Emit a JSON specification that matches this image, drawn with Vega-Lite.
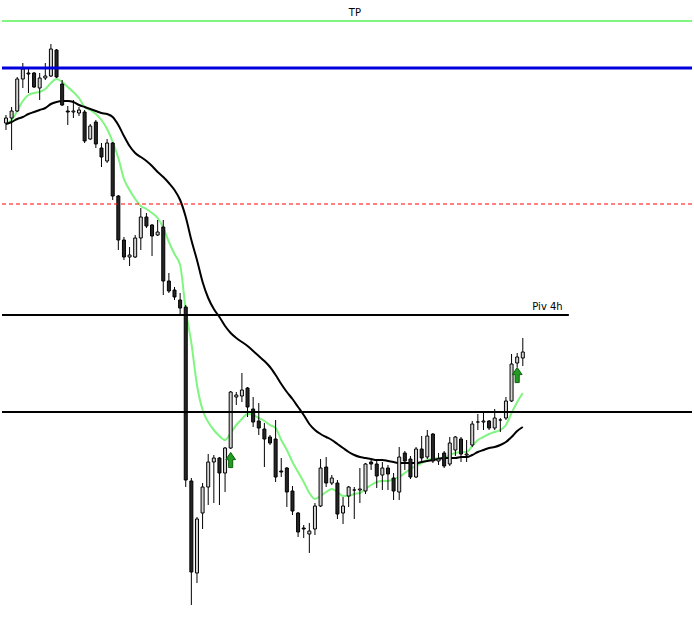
{
  "$schema": "https://vega.github.io/schema/vega-lite/v6.json",
  "description": "Candlestick chart with fast and slow moving averages, TP and pivot levels.",
  "width": 694,
  "height": 623,
  "autosize": {"type": "fit", "contains": "padding"},
  "padding": 0,
  "background": "white",
  "datasets": {
    "candles": [
      {"i": 0, "o": 1877, "h": 1885, "l": 1870, "c": 1882},
      {"i": 1, "o": 1882, "h": 1893, "l": 1850, "c": 1889},
      {"i": 2, "o": 1889, "h": 1923, "l": 1888, "c": 1921},
      {"i": 3, "o": 1921, "h": 1937, "l": 1912, "c": 1931},
      {"i": 4, "o": 1927, "h": 1931, "l": 1907, "c": 1926},
      {"i": 5, "o": 1927, "h": 1928, "l": 1912, "c": 1913},
      {"i": 6, "o": 1912, "h": 1927, "l": 1900, "c": 1922},
      {"i": 7, "o": 1922, "h": 1937, "l": 1920, "c": 1924},
      {"i": 8, "o": 1924, "h": 1956, "l": 1923, "c": 1951},
      {"i": 9, "o": 1950, "h": 1951, "l": 1922, "c": 1923},
      {"i": 10, "o": 1916, "h": 1920, "l": 1894, "c": 1895},
      {"i": 11, "o": 1889, "h": 1894, "l": 1875, "c": 1888},
      {"i": 12, "o": 1888, "h": 1900, "l": 1882, "c": 1889},
      {"i": 13, "o": 1887, "h": 1893, "l": 1884, "c": 1890},
      {"i": 14, "o": 1888, "h": 1890, "l": 1857, "c": 1859},
      {"i": 15, "o": 1861, "h": 1876, "l": 1860, "c": 1874},
      {"i": 16, "o": 1878, "h": 1880, "l": 1852, "c": 1856},
      {"i": 17, "o": 1852, "h": 1857, "l": 1833, "c": 1843},
      {"i": 18, "o": 1839, "h": 1861, "l": 1837, "c": 1857},
      {"i": 19, "o": 1857, "h": 1858, "l": 1800, "c": 1804},
      {"i": 20, "o": 1804, "h": 1805, "l": 1750, "c": 1760},
      {"i": 21, "o": 1760, "h": 1763, "l": 1740, "c": 1743},
      {"i": 22, "o": 1743, "h": 1753, "l": 1734, "c": 1745},
      {"i": 23, "o": 1743, "h": 1765, "l": 1742, "c": 1762},
      {"i": 24, "o": 1762, "h": 1792, "l": 1750, "c": 1783},
      {"i": 25, "o": 1783, "h": 1787, "l": 1772, "c": 1774},
      {"i": 26, "o": 1775, "h": 1776, "l": 1744, "c": 1764},
      {"i": 27, "o": 1765, "h": 1780, "l": 1764, "c": 1768},
      {"i": 28, "o": 1773, "h": 1780, "l": 1705, "c": 1719},
      {"i": 29, "o": 1719, "h": 1727, "l": 1707, "c": 1709},
      {"i": 30, "o": 1710, "h": 1713, "l": 1700, "c": 1703},
      {"i": 31, "o": 1700, "h": 1707, "l": 1685, "c": 1692},
      {"i": 32, "o": 1693, "h": 1695, "l": 1513, "c": 1520},
      {"i": 33, "o": 1519, "h": 1522, "l": 1395, "c": 1428},
      {"i": 34, "o": 1427, "h": 1483, "l": 1417, "c": 1481},
      {"i": 35, "o": 1487, "h": 1517, "l": 1471, "c": 1513},
      {"i": 36, "o": 1513, "h": 1546, "l": 1495, "c": 1538},
      {"i": 37, "o": 1538, "h": 1545, "l": 1497, "c": 1542},
      {"i": 38, "o": 1542, "h": 1543, "l": 1495, "c": 1527},
      {"i": 39, "o": 1527, "h": 1553, "l": 1508, "c": 1552},
      {"i": 40, "o": 1552, "h": 1609, "l": 1551, "c": 1608},
      {"i": 41, "o": 1603, "h": 1608, "l": 1595, "c": 1605},
      {"i": 42, "o": 1604, "h": 1627, "l": 1598, "c": 1610},
      {"i": 43, "o": 1612, "h": 1613, "l": 1583, "c": 1593},
      {"i": 44, "o": 1591, "h": 1603, "l": 1573, "c": 1578},
      {"i": 45, "o": 1579, "h": 1597, "l": 1565, "c": 1572},
      {"i": 46, "o": 1571, "h": 1577, "l": 1533, "c": 1561},
      {"i": 47, "o": 1563, "h": 1565, "l": 1555, "c": 1557},
      {"i": 48, "o": 1561, "h": 1580, "l": 1518, "c": 1523},
      {"i": 49, "o": 1529, "h": 1542, "l": 1523, "c": 1528},
      {"i": 50, "o": 1532, "h": 1533, "l": 1493, "c": 1508},
      {"i": 51, "o": 1509, "h": 1514, "l": 1485, "c": 1489},
      {"i": 52, "o": 1487, "h": 1488, "l": 1463, "c": 1468},
      {"i": 53, "o": 1472, "h": 1475, "l": 1462, "c": 1471},
      {"i": 54, "o": 1466, "h": 1477, "l": 1447, "c": 1469},
      {"i": 55, "o": 1471, "h": 1497, "l": 1465, "c": 1494},
      {"i": 56, "o": 1494, "h": 1541, "l": 1493, "c": 1532},
      {"i": 57, "o": 1533, "h": 1543, "l": 1513, "c": 1517},
      {"i": 58, "o": 1517, "h": 1525, "l": 1515, "c": 1522},
      {"i": 59, "o": 1517, "h": 1520, "l": 1481, "c": 1486},
      {"i": 60, "o": 1487, "h": 1503, "l": 1476, "c": 1494},
      {"i": 61, "o": 1504, "h": 1514, "l": 1493, "c": 1513},
      {"i": 62, "o": 1510, "h": 1513, "l": 1481, "c": 1510},
      {"i": 63, "o": 1510, "h": 1532, "l": 1497, "c": 1511},
      {"i": 64, "o": 1509, "h": 1537, "l": 1506, "c": 1536},
      {"i": 65, "o": 1538, "h": 1541, "l": 1530, "c": 1536},
      {"i": 66, "o": 1536, "h": 1540, "l": 1512, "c": 1524},
      {"i": 67, "o": 1525, "h": 1538, "l": 1510, "c": 1532},
      {"i": 68, "o": 1532, "h": 1535, "l": 1510, "c": 1526},
      {"i": 69, "o": 1522, "h": 1527, "l": 1500, "c": 1509},
      {"i": 70, "o": 1508, "h": 1553, "l": 1500, "c": 1543},
      {"i": 71, "o": 1547, "h": 1549, "l": 1530, "c": 1539},
      {"i": 72, "o": 1541, "h": 1544, "l": 1521, "c": 1523},
      {"i": 73, "o": 1523, "h": 1553, "l": 1522, "c": 1551},
      {"i": 74, "o": 1551, "h": 1564, "l": 1538, "c": 1542},
      {"i": 75, "o": 1543, "h": 1570, "l": 1541, "c": 1564},
      {"i": 76, "o": 1566, "h": 1567, "l": 1537, "c": 1539},
      {"i": 77, "o": 1539, "h": 1547, "l": 1535, "c": 1541},
      {"i": 78, "o": 1547, "h": 1549, "l": 1532, "c": 1534},
      {"i": 79, "o": 1536, "h": 1563, "l": 1534, "c": 1557},
      {"i": 80, "o": 1550, "h": 1564, "l": 1544, "c": 1563},
      {"i": 81, "o": 1561, "h": 1563, "l": 1538, "c": 1546},
      {"i": 82, "o": 1545, "h": 1560, "l": 1538, "c": 1546},
      {"i": 83, "o": 1555, "h": 1579, "l": 1553, "c": 1576},
      {"i": 84, "o": 1578, "h": 1586, "l": 1570, "c": 1578},
      {"i": 85, "o": 1578, "h": 1589, "l": 1570, "c": 1579},
      {"i": 86, "o": 1579, "h": 1580, "l": 1570, "c": 1572},
      {"i": 87, "o": 1572, "h": 1591, "l": 1570, "c": 1582},
      {"i": 88, "o": 1580, "h": 1582, "l": 1568, "c": 1580},
      {"i": 89, "o": 1582, "h": 1603, "l": 1580, "c": 1599},
      {"i": 90, "o": 1599, "h": 1646, "l": 1598, "c": 1636},
      {"i": 91, "o": 1637, "h": 1647, "l": 1633, "c": 1643},
      {"i": 92, "o": 1642, "h": 1662, "l": 1634, "c": 1648}
    ],
    "ma": [
      {"i": 0, "fast": 1876, "slow": 1876},
      {"i": 1, "fast": 1880, "slow": 1878},
      {"i": 2, "fast": 1889, "slow": 1881},
      {"i": 3, "fast": 1899, "slow": 1883},
      {"i": 4, "fast": 1905, "slow": 1886},
      {"i": 5, "fast": 1907, "slow": 1888},
      {"i": 6, "fast": 1908, "slow": 1890},
      {"i": 7, "fast": 1911, "slow": 1892},
      {"i": 8, "fast": 1917, "slow": 1896},
      {"i": 9, "fast": 1921, "slow": 1898},
      {"i": 10, "fast": 1918, "slow": 1899},
      {"i": 11, "fast": 1913, "slow": 1899},
      {"i": 12, "fast": 1908, "slow": 1898},
      {"i": 13, "fast": 1902, "slow": 1895},
      {"i": 14, "fast": 1893, "slow": 1893},
      {"i": 15, "fast": 1890, "slow": 1891},
      {"i": 16, "fast": 1886, "slow": 1889},
      {"i": 17, "fast": 1880, "slow": 1887},
      {"i": 18, "fast": 1871, "slow": 1886},
      {"i": 19, "fast": 1858, "slow": 1883},
      {"i": 20, "fast": 1842, "slow": 1875},
      {"i": 21, "fast": 1821, "slow": 1864},
      {"i": 22, "fast": 1810, "slow": 1854},
      {"i": 23, "fast": 1801, "slow": 1847},
      {"i": 24, "fast": 1794, "slow": 1843},
      {"i": 25, "fast": 1791, "slow": 1839},
      {"i": 26, "fast": 1787, "slow": 1834},
      {"i": 27, "fast": 1782, "slow": 1828},
      {"i": 28, "fast": 1772, "slow": 1823},
      {"i": 29, "fast": 1758, "slow": 1817},
      {"i": 30, "fast": 1746, "slow": 1810},
      {"i": 31, "fast": 1735, "slow": 1800},
      {"i": 32, "fast": 1690, "slow": 1783},
      {"i": 33, "fast": 1657, "slow": 1760},
      {"i": 34, "fast": 1615, "slow": 1740},
      {"i": 35, "fast": 1590, "slow": 1718},
      {"i": 36, "fast": 1578, "slow": 1702},
      {"i": 37, "fast": 1570, "slow": 1691},
      {"i": 38, "fast": 1564, "slow": 1683},
      {"i": 39, "fast": 1560, "slow": 1674},
      {"i": 40, "fast": 1567, "slow": 1667},
      {"i": 41, "fast": 1575, "slow": 1662},
      {"i": 42, "fast": 1581, "slow": 1658},
      {"i": 43, "fast": 1586, "slow": 1654},
      {"i": 44, "fast": 1585, "slow": 1649},
      {"i": 45, "fast": 1582, "slow": 1644},
      {"i": 46, "fast": 1579, "slow": 1639},
      {"i": 47, "fast": 1575, "slow": 1633},
      {"i": 48, "fast": 1572, "slow": 1625},
      {"i": 49, "fast": 1560, "slow": 1616},
      {"i": 50, "fast": 1550, "slow": 1608},
      {"i": 51, "fast": 1538, "slow": 1601},
      {"i": 52, "fast": 1528, "slow": 1593},
      {"i": 53, "fast": 1518, "slow": 1585},
      {"i": 54, "fast": 1507, "slow": 1576},
      {"i": 55, "fast": 1501, "slow": 1570},
      {"i": 56, "fast": 1504, "slow": 1566},
      {"i": 57, "fast": 1508, "slow": 1563},
      {"i": 58, "fast": 1511, "slow": 1560},
      {"i": 59, "fast": 1508, "slow": 1556},
      {"i": 60, "fast": 1504, "slow": 1552},
      {"i": 61, "fast": 1504, "slow": 1548},
      {"i": 62, "fast": 1506, "slow": 1545},
      {"i": 63, "fast": 1507, "slow": 1543},
      {"i": 64, "fast": 1511, "slow": 1542},
      {"i": 65, "fast": 1515, "slow": 1541},
      {"i": 66, "fast": 1518, "slow": 1540},
      {"i": 67, "fast": 1519, "slow": 1540},
      {"i": 68, "fast": 1519, "slow": 1539},
      {"i": 69, "fast": 1521, "slow": 1538},
      {"i": 70, "fast": 1523, "slow": 1537},
      {"i": 71, "fast": 1527, "slow": 1537},
      {"i": 72, "fast": 1531, "slow": 1537},
      {"i": 73, "fast": 1534, "slow": 1537},
      {"i": 74, "fast": 1537, "slow": 1538},
      {"i": 75, "fast": 1540, "slow": 1539},
      {"i": 76, "fast": 1541, "slow": 1540},
      {"i": 77, "fast": 1542, "slow": 1541},
      {"i": 78, "fast": 1542, "slow": 1542},
      {"i": 79, "fast": 1545, "slow": 1542},
      {"i": 80, "fast": 1547, "slow": 1542},
      {"i": 81, "fast": 1548, "slow": 1543},
      {"i": 82, "fast": 1548, "slow": 1543},
      {"i": 83, "fast": 1554, "slow": 1545},
      {"i": 84, "fast": 1560, "slow": 1548},
      {"i": 85, "fast": 1563, "slow": 1550},
      {"i": 86, "fast": 1566, "slow": 1552},
      {"i": 87, "fast": 1568, "slow": 1553},
      {"i": 88, "fast": 1570, "slow": 1555},
      {"i": 89, "fast": 1575, "slow": 1558},
      {"i": 90, "fast": 1587, "slow": 1563},
      {"i": 91, "fast": 1598, "slow": 1569},
      {"i": 92, "fast": 1607, "slow": 1573}
    ],
    "levels": [
      {"name": "TP", "price": 1979},
      {"name": "entry", "price": 1932},
      {"name": "sl", "price": 1796},
      {"name": "support", "price": 1588}
    ],
    "pivot": [
      {"name": "Piv 4h", "price": 1685, "start": -0.708, "end": 100.2}
    ],
    "signals": [
      {"i": 40, "price": 1540},
      {"i": 91, "price": 1625}
    ],
    "labels": [
      {"text": "TP", "i": 62.1, "price": 1979},
      {"text": "Piv 4h", "i": 99.1, "price": 1685}
    ]
  },
  "encoding": {
    "x": {
      "field": "i",
      "type": "quantitative",
      "axis": null,
      "scale": {"domain": [-0.708, 122.12], "nice": false, "zero": false, "padding": 0}
    }
  },
  "layer": [
    {
      "data": {"name": "ma"},
      "mark": {"type": "line", "color": "#80f580", "strokeWidth": 2, "interpolate": "monotone"},
      "encoding": {
        "y": {
          "field": "fast",
          "type": "quantitative",
          "axis": null,
          "scale": {"domain": [1377, 2000], "nice": false, "zero": false, "padding": 0}
        }
      }
    },
    {
      "data": {"name": "ma"},
      "mark": {"type": "line", "color": "black", "strokeWidth": 2, "interpolate": "monotone"},
      "encoding": {"y": {"field": "slow", "type": "quantitative"}}
    },
    {
      "data": {"name": "candles"},
      "mark": {"type": "rule", "color": "black", "strokeWidth": 1},
      "encoding": {
        "y": {"field": "l", "type": "quantitative"},
        "y2": {"field": "h"}
      }
    },
    {
      "data": {"name": "candles"},
      "mark": {"type": "bar", "orient": "vertical", "width": 3, "stroke": "black", "strokeWidth": 1},
      "encoding": {
        "y": {"field": "o", "type": "quantitative"},
        "y2": {"field": "c"},
        "fill": {
          "condition": {"test": "datum.c >= datum.o", "value": "#d4d4d4"},
          "value": "#262626"
        }
      }
    },
    {
      "data": {"name": "signals"},
      "mark": {
        "type": "point",
        "shape": "M0,-1L0.64,-0.05L0.27,-0.05L0.27,1L-0.27,1L-0.27,-0.05L-0.64,-0.05Z",
        "size": 230,
        "filled": true,
        "fill": "#239a23",
        "stroke": "#0d600d",
        "strokeWidth": 1,
        "opacity": 1
      },
      "encoding": {"y": {"field": "price", "type": "quantitative"}}
    },
    {
      "data": {"name": "levels"},
      "transform": [{"filter": "datum.name == 'TP'"}],
      "mark": {"type": "rule", "color": "#80f580", "strokeWidth": 2},
      "encoding": {"y": {"field": "price", "type": "quantitative"}, "x": null}
    },
    {
      "data": {"name": "levels"},
      "transform": [{"filter": "datum.name == 'entry'"}],
      "mark": {"type": "rule", "color": "#0000dd", "strokeWidth": 3},
      "encoding": {"y": {"field": "price", "type": "quantitative"}, "x": null}
    },
    {
      "data": {"name": "levels"},
      "transform": [{"filter": "datum.name == 'sl'"}],
      "mark": {"type": "rule", "color": "#ff0000", "strokeWidth": 1, "strokeDash": [4, 3]},
      "encoding": {"y": {"field": "price", "type": "quantitative"}, "x": null}
    },
    {
      "data": {"name": "levels"},
      "transform": [{"filter": "datum.name == 'support'"}],
      "mark": {"type": "rule", "color": "black", "strokeWidth": 2},
      "encoding": {"y": {"field": "price", "type": "quantitative"}, "x": null}
    },
    {
      "data": {"name": "pivot"},
      "mark": {"type": "rule", "color": "black", "strokeWidth": 2},
      "encoding": {
        "x": {"field": "start", "type": "quantitative"},
        "x2": {"field": "end"},
        "y": {"field": "price", "type": "quantitative"}
      }
    },
    {
      "data": {"name": "labels"},
      "transform": [{"filter": "datum.text == 'TP'"}],
      "mark": {"type": "text", "align": "center", "baseline": "bottom", "dy": -3, "font": "DejaVu Sans", "fontSize": 10, "fill": "black"},
      "encoding": {
        "y": {"field": "price", "type": "quantitative"},
        "text": {"field": "text"}
      }
    },
    {
      "data": {"name": "labels"},
      "transform": [{"filter": "datum.text == 'Piv 4h'"}],
      "mark": {"type": "text", "align": "right", "baseline": "bottom", "dy": -3, "font": "DejaVu Sans", "fontSize": 10, "fill": "black"},
      "encoding": {
        "y": {"field": "price", "type": "quantitative"},
        "text": {"field": "text"}
      }
    }
  ],
  "config": {
    "view": {"stroke": null},
    "axis": {"grid": false}
  }
}
